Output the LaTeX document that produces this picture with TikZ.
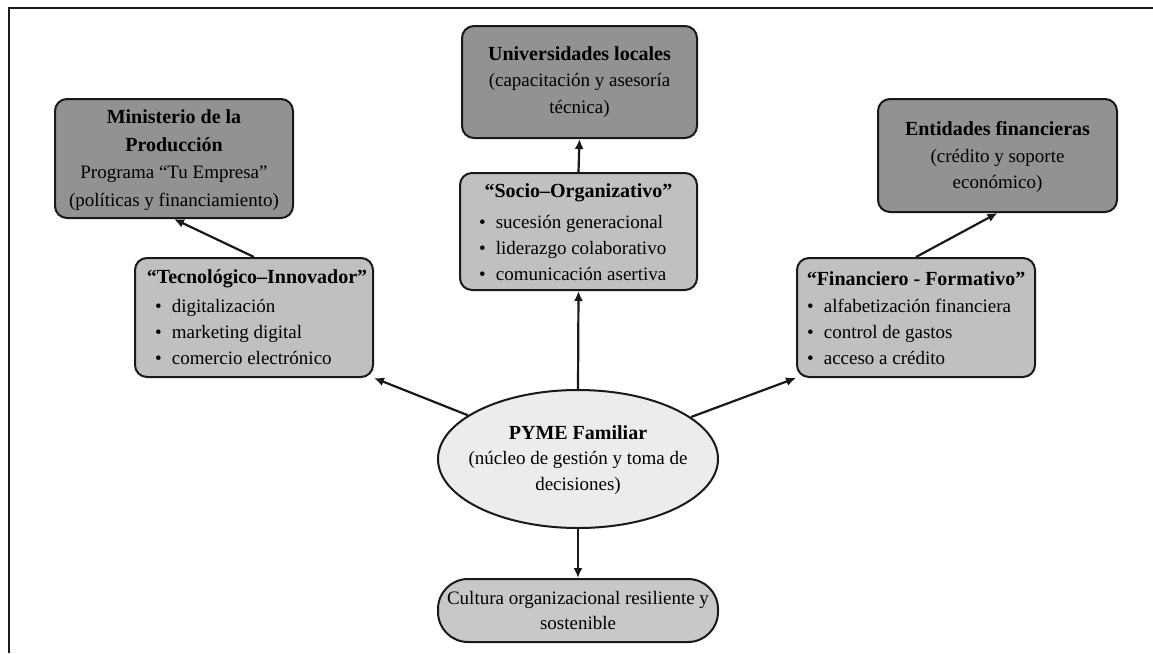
\documentclass[tikz,border=0pt]{standalone}
\usepackage{fontspec}
\setmainfont{Liberation Serif}
\usetikzlibrary{shapes.geometric,arrows.meta}
\definecolor{boxdark}{RGB}{146,146,146}
\definecolor{boxmid}{RGB}{192,192,192}
\definecolor{boxlight}{RGB}{236,236,236}
\definecolor{boxcult}{RGB}{200,200,200}
\newcommand{\hd}[1]{{\fontsize{20}{26.5}\selectfont\bfseries #1}}
\begin{document}
\begin{tikzpicture}[x=1pt,y=-1pt,
  box/.style={draw=black!90, line width=2pt, rounded corners=12pt, inner sep=0pt},
  darkbox/.style={box, fill=boxdark},
  midbox/.style={box, fill=boxmid},
  txt/.style={font=\fontsize{19}{26.5}\selectfont, align=center, inner sep=0pt},
  blist/.style={font=\fontsize{19}{26}\selectfont, align=left, inner sep=0pt, anchor=west},
  conn/.style={line width=2.2pt, draw=black!90, -{Latex[length=10pt,width=9pt]}}]
\useasboundingbox (0,0) rectangle (1153,653);
\draw[line width=2pt, black!90] (9,653) -- (9,8) -- (1153,8);

% top boxes
\node[darkbox, minimum width=238pt, minimum height=119pt] (min) at (174,158.5) {};
\node[txt, font=\fontsize{19}{27.5}\selectfont] (mint) at (174,160) {\hd{Ministerio de la}\\ \hd{Producción}\\ Programa “Tu Empresa”\\ (políticas y financiamiento)};

\node[darkbox, minimum width=235pt, minimum height=112pt] (uni) at (579.5,82) {};
\node[txt] (unit) at (579.5,82) {\hd{Universidades locales}\\ (capacitación y asesoría\\ técnica)};

\node[darkbox, minimum width=239pt, minimum height=113pt] (ent) at (997.5,155.5) {};
\node[txt] (entt) at (997.5,157) {\hd{Entidades financieras}\\ (crédito y soporte\\ económico)};

% middle boxes
\node[midbox, minimum width=237pt, minimum height=117pt] (soc) at (578.5,231.5) {};
\node[txt] (soct) at (578.5,193) {\hd{“Socio–Organizativo”}};
\node[blist] (socl) at (479,247.5) {\textbullet\hspace{10pt}sucesión generacional\\ \textbullet\hspace{10pt}liderazgo colaborativo\\ \textbullet\hspace{10pt}comunicación asertiva};

\node[midbox, minimum width=238pt, minimum height=119pt] (tec) at (254,317.5) {};
\node[txt] (tect) at (257,279) {\hd{“Tecnológico–Innovador”}};
\node[blist] (tecl) at (155,332) {\textbullet\hspace{10pt}digitalización\\ \textbullet\hspace{10pt}marketing digital\\ \textbullet\hspace{10pt}comercio electrónico};

\node[midbox, minimum width=238pt, minimum height=119pt] (fin) at (916,317.5) {};
\node[txt] (fint) at (916,279) {\hd{“Financiero - Formativo”}};
\node[blist] (finl) at (807,332) {\textbullet\hspace{10pt}alfabetización financiera\\ \textbullet\hspace{10pt}control de gastos\\ \textbullet\hspace{10pt}acceso a crédito};

% center
\node[ellipse, draw=black!90, line width=2pt, fill=boxlight, minimum width=280pt, minimum height=138pt, inner sep=0pt] (pyme) at (578,459) {};
\node[txt, font=\fontsize{19}{25.5}\selectfont] (pymet) at (578,460) {\hd{PYME Familiar}\\ (núcleo de gestión y toma de\\ decisiones)};

% bottom
\node[box, fill=boxcult, rounded corners=30pt, minimum width=280pt, minimum height=63pt] (cul) at (578,610.5) {};
\node[txt, font=\fontsize{19}{25}\selectfont] (cult) at (578,610.5) {Cultura organizacional resiliente y\\ sostenible};

% connectors
\draw[conn] (pyme.north) -- (soc.south);
\draw[conn] (soc.north) -- (uni.south);
\draw[conn] (pyme.south) -- (cul.north);
\draw[conn] (pyme) -- (tec.south east);
\draw[conn] (pyme) -- (fin.south west);
\draw[conn] (tec.north) -- (min.south);
\draw[conn] (fin.north) -- (ent.south);
\end{tikzpicture}
\end{document}
